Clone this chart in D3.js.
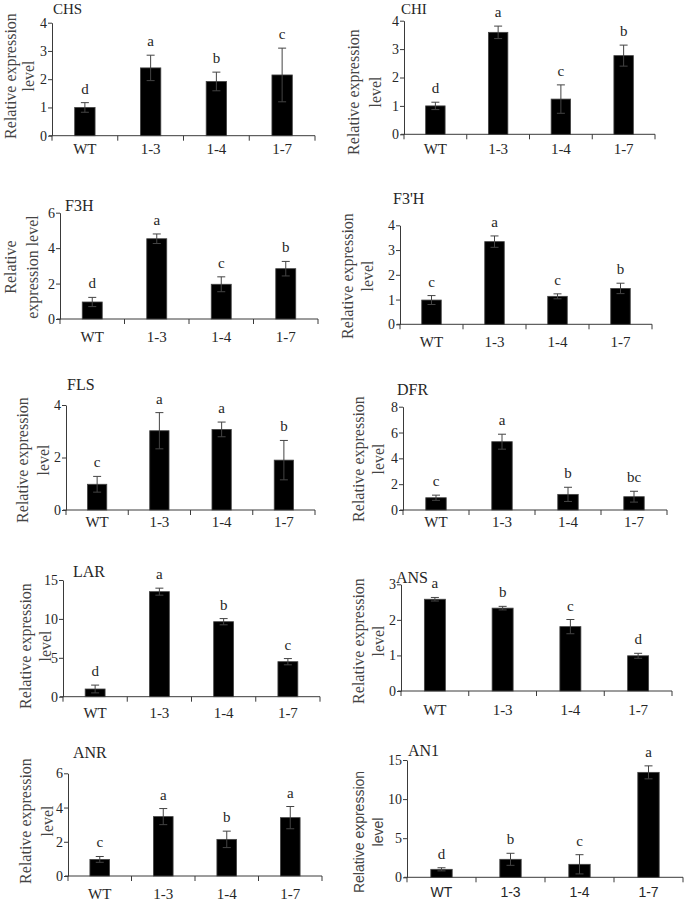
<!DOCTYPE html>
<html><head><meta charset="utf-8">
<script src="https://cdn.jsdelivr.net/npm/d3@7"></script>
<style>body{margin:0;background:#fff}svg{display:block}</style>
</head><body>
<script>
// ---- data ----
const categories = ["WT", "1-3", "1-4", "1-7"];
const genes = ["CHS", "CHI", "F3H", "F3'H", "FLS", "DFR", "LAR", "ANS", "ANR", "AN1"];
const chsMean = [1.0, 2.4, 1.92, 2.15];   const chsErr = [0.17, 0.45, 0.33, 0.95];  const chsLetters = ["d", "a", "b", "c"];
const chiMean = [1.0, 3.59, 1.24, 2.77];  const chiErr = [0.13, 0.22, 0.5, 0.37];   const chiLetters = ["d", "a", "c", "b"];
const f3hMean = [0.96, 4.53, 1.96, 2.84]; const f3hErr = [0.26, 0.27, 0.42, 0.41];  const f3hLetters = ["d", "a", "c", "b"];
const f3phMean = [0.98, 3.34, 1.13, 1.45];const f3phErr = [0.18, 0.23, 0.1, 0.21];  const f3phLetters = ["c", "a", "c", "b"];
const flsMean = [0.98, 3.02, 3.07, 1.9];  const flsErr = [0.3, 0.69, 0.28, 0.75];   const flsLetters = ["c", "a", "a", "b"];
const dfrMean = [0.95, 5.29, 1.21, 1.03]; const dfrErr = [0.2, 0.58, 0.55, 0.42];   const dfrLetters = ["c", "a", "b", "bc"];
const larMean = [0.99, 13.5, 9.64, 4.5];  const larErr = [0.5, 0.45, 0.4, 0.4];     const larLetters = ["d", "a", "b", "c"];
const ansMean = [2.58, 2.33, 1.81, 0.99]; const ansErr = [0.05, 0.05, 0.2, 0.07];   const ansLetters = ["a", "b", "c", "d"];
const anrMean = [0.97, 3.47, 2.14, 3.41]; const anrErr = [0.17, 0.47, 0.48, 0.65];  const anrLetters = ["c", "a", "b", "a"];
const an1Mean = [1.02, 2.3, 1.66, 13.42]; const an1Err = [0.2, 0.77, 1.23, 0.83];   const an1Letters = ["d", "b", "c", "a"];
const yAxisMax = [4, 4, 6, 4, 4, 8, 15, 3, 6, 15];
const yTickStep = [1, 1, 2, 1, 2, 2, 5, 1, 2, 5];

const means = [chsMean, chiMean, f3hMean, f3phMean, flsMean, dfrMean, larMean, ansMean, anrMean, an1Mean];
const errs = [chsErr, chiErr, f3hErr, f3phErr, flsErr, dfrErr, larErr, ansErr, anrErr, an1Err];
const letters = [chsLetters, chiLetters, f3hLetters, f3phLetters, flsLetters, dfrLetters, larLetters, ansLetters, anrLetters, an1Letters];

// ---- layout (pixel positions of each panel) ----
const layout = [
  {x0: 52, x1: 315, y0: 135.7, y1: 22.7, tx: 53, ty: 14, lx: [10, 28], ly: 76, lines: ["Relative expression", "level"], cy: 154},
  {x0: 404, x1: 655, y0: 134.3, y1: 20.7, tx: 401, ty: 14, lx: [353, 375], ly: 92, lines: ["Relative expression", "level"], cy: 154},
  {x0: 60, x1: 318, y0: 319, y1: 212.7, tx: 65, ty: 211, lx: [10, 32], ly: 267, lines: ["Relative", "expression level"], cy: 342},
  {x0: 400, x1: 652, y0: 324.3, y1: 225.3, tx: 393, ty: 204, lx: [347, 367], ly: 276, lines: ["Relative expression", "level"], cy: 347},
  {x0: 66, x1: 315, y0: 510, y1: 405, tx: 67, ty: 390, lx: [22, 43], ly: 460, lines: ["Relative expression", "level"], cy: 527},
  {x0: 403, x1: 667, y0: 510, y1: 406.7, tx: 397, ty: 395, lx: [358, 378], ly: 459, lines: ["Relative expression", "level"], cy: 527},
  {x0: 63, x1: 320, y0: 696.7, y1: 580, tx: 73, ty: 577, lx: [25, 45], ly: 646, lines: ["Relative expression", "level"], cy: 718},
  {x0: 401, x1: 672, y0: 691, y1: 584.3, tx: 396, ty: 583, lx: [358, 378], ly: 641, lines: ["Relative expression", "level"], cy: 715},
  {x0: 68, x1: 322, y0: 876, y1: 773.3, tx: 73, ty: 758, lx: [25, 47], ly: 821, lines: ["Relative expression", "level"], cy: 899},
  {x0: 407, x1: 683, y0: 877.3, y1: 760, tx: 408, ty: 756, lx: [359, 378], ly: 832, lines: ["Relative expression", "level"], cy: 897, sans: true}
];

const SERIF = "'Liberation Serif', 'Times New Roman', serif";
const SANS = "'Liberation Sans', Arial, sans-serif";
const TXT = "#262626", AX = "#3a3a3a";

const svg = d3.select("body").append("svg").attr("width", 685).attr("height", 901);

genes.forEach((g, i) => {
  const L = layout[i];
  const gp = svg.append("g");
  const y = d3.scaleLinear().domain([0, yAxisMax[i]]).range([L.y0, L.y1]);
  const x = d3.scaleBand().domain(categories).range([L.x0, L.x1]);
  const bw = x.bandwidth();
  const barW = bw * 0.31;
  const ticks = d3.range(0, yAxisMax[i] + yTickStep[i] / 2, yTickStep[i]);

  // y axis
  const ya = gp.append("g").attr("transform", `translate(${L.x0},0)`)
    .call(d3.axisLeft(y).tickValues(ticks).tickSize(4).tickSizeOuter(0).tickFormat(d3.format("d")));
  ya.select(".domain").attr("stroke", AX);
  ya.selectAll(".tick line").attr("stroke", AX);
  ya.selectAll(".tick text").attr("font-family", SERIF).attr("font-size", 14).attr("fill", TXT).attr("x", -5);

  // x axis line + boundary ticks
  gp.append("line").attr("x1", L.x0 - 3).attr("x2", L.x1).attr("y1", L.y0).attr("y2", L.y0).attr("stroke", AX);
  const bounds = categories.map(c => x(c)).concat([L.x1]);
  gp.selectAll(".xt").data(bounds).join("line")
    .attr("x1", d => d).attr("x2", d => d).attr("y1", L.y0).attr("y2", L.y0 + 5).attr("stroke", AX);

  const data = categories.map((c, k) => ({c, m: means[i][k], e: errs[i][k], l: letters[i][k]}));

  // bars
  gp.selectAll(".bar").data(data).join("rect")
    .attr("x", d => x(d.c) + (bw - barW) / 2).attr("width", barW)
    .attr("y", d => y(d.m)).attr("height", d => L.y0 - y(d.m))
    .attr("fill", "#000").attr("stroke", "#444").attr("stroke-width", 0.8);

  // error bars
  const eg = gp.selectAll(".err").data(data).join("g").attr("stroke", "#444").attr("stroke-width", 1);
  eg.append("line").attr("x1", d => x(d.c) + bw / 2).attr("x2", d => x(d.c) + bw / 2)
    .attr("y1", d => y(d.m + d.e)).attr("y2", d => y(Math.max(0, d.m - d.e)));
  eg.append("line").attr("x1", d => x(d.c) + bw / 2 - 4).attr("x2", d => x(d.c) + bw / 2 + 4)
    .attr("y1", d => y(d.m + d.e)).attr("y2", d => y(d.m + d.e));
  eg.append("line").attr("x1", d => x(d.c) + bw / 2 - 4).attr("x2", d => x(d.c) + bw / 2 + 4)
    .attr("y1", d => y(Math.max(0, d.m - d.e))).attr("y2", d => y(Math.max(0, d.m - d.e)));

  // significance letters
  gp.selectAll(".let").data(data).join("text")
    .attr("x", d => x(d.c) + bw / 2).attr("y", d => y(d.m + d.e) - 9)
    .attr("text-anchor", "middle").attr("font-family", SERIF).attr("font-size", 15).attr("fill", TXT)
    .text(d => d.l);

  // category labels
  gp.selectAll(".cat").data(categories).join("text")
    .attr("x", c => x(c) + bw / 2).attr("y", L.cy)
    .attr("text-anchor", "middle").attr("font-family", L.sans ? SANS : SERIF)
    .attr("font-size", L.sans ? 14 : 15).attr("fill", TXT).text(c => c);

  // title
  gp.append("text").attr("x", L.tx).attr("y", L.ty).attr("font-family", SERIF)
    .attr("font-size", i < 2 ? 15 : 16).attr("fill", TXT).text(g);

  // y label
  L.lines.forEach((t, k) => {
    gp.append("text").attr("transform", `translate(${L.lx[k]},${L.ly}) rotate(-90)`)
      .attr("text-anchor", "middle").attr("dominant-baseline", "central")
      .attr("font-family", L.sans ? SANS : SERIF).attr("font-size", L.sans ? 14 : 16)
      .attr("fill", "#444").text(t);
  });
});
</script>
</body></html>
